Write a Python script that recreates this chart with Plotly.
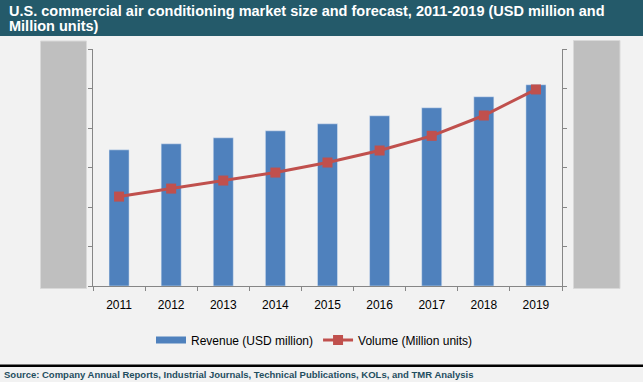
import plotly.graph_objects as go

years = ["2011", "2012", "2013", "2014", "2015", "2016", "2017", "2018", "2019"]
revenue_usd_mn = [3447, 3600, 3752, 3929, 4106, 4309, 4512, 4791, 5095]
volume_mn_units = [1.132, 1.233, 1.335, 1.436, 1.563, 1.715, 1.901, 2.158, 2.488]

title_line1 = "U.S. commercial air conditioning market size and forecast, 2011-2019 (USD million and"
title_line2 = "Million units)"
source_text = "Source: Company Annual Reports, Industrial Journals, Technical Publications, KOLs, and TMR Analysis"

W, H = 643, 382
L, R, T, B = 93, 81, 49, 96
PW, PH = W - L - R, H - T - B

def px_x(px):
    return (px - L) / PW

def px_y(py):
    return (H - B - py) / PH

BLUE = "#4f81bd"
RED = "#c0504d"
AXIS = "#868686"
SANS = "Liberation Sans, Arial, sans-serif"

fig = go.Figure()
fig.add_trace(go.Bar(x=years, y=revenue_usd_mn, name="Revenue (USD million)",
                     marker_color=BLUE, width=0.385, showlegend=False))
# legend stand-in for the bar series (wide flat swatch)
fig.add_trace(go.Scatter(x=[None], y=[None], mode="lines", name="Revenue (USD million)",
                         line=dict(color=BLUE, width=7)))
fig.add_trace(go.Scatter(x=years, y=volume_mn_units, name="Volume (Million units)", yaxis="y2",
                         mode="lines+markers", line=dict(color=RED, width=3),
                         marker=dict(symbol="square", size=10, color=RED)))

shapes = [
    # title bar
    dict(type="rect", xref="paper", yref="paper", x0=px_x(0), x1=px_x(W), y0=px_y(36), y1=px_y(0),
         fillcolor="#245a6a", line_width=0, layer="below"),
    # gray boxes over axis labels
    dict(type="rect", xref="paper", yref="paper", x0=px_x(40.5), x1=px_x(86.5), y0=px_y(288.5), y1=px_y(41),
         fillcolor="#bfbfbf", line=dict(color="#d9d9d9", width=1)),
    dict(type="rect", xref="paper", yref="paper", x0=px_x(573.5), x1=px_x(620), y0=px_y(288.5), y1=px_y(40.5),
         fillcolor="#bfbfbf", line=dict(color="#d9d9d9", width=1)),
    # black separator line
    dict(type="line", xref="paper", yref="paper", x0=px_x(0), x1=px_x(W), y0=px_y(365.7), y1=px_y(365.7),
         line=dict(color="#000000", width=2.5)),
]

title_font = dict(family=SANS, size=14.5, color="#ffffff", weight="bold")
annotations = [
    dict(text=title_line1, xref="paper", yref="paper", x=px_x(7), y=px_y(11),
         xanchor="left", yanchor="middle", showarrow=False, font=title_font),
    dict(text=title_line2, xref="paper", yref="paper", x=px_x(7), y=px_y(26.5),
         xanchor="left", yanchor="middle", showarrow=False, font=title_font),
    dict(text=source_text, xref="paper", yref="paper", x=px_x(2), y=px_y(374.5),
         xanchor="left", yanchor="middle", showarrow=False,
         font=dict(family=SANS, size=9.5, color="#1f4e5f", weight="bold")),
]

fig.update_layout(
    width=W, height=H,
    margin=dict(l=L, r=R, t=T, b=B),
    paper_bgcolor="#f2f2f2", plot_bgcolor="#f2f2f2",
    font=dict(family=SANS, size=12, color="#000000"),
    shapes=shapes,
    annotations=annotations,
    xaxis=dict(type="category", range=[-0.5, 8.5], showline=True, linecolor=AXIS, linewidth=1,
               ticks="outside", tickson="boundaries", ticklen=4, tickcolor=AXIS,
               ticklabelstandoff=8, showgrid=False, tickfont=dict(size=12, color="#000000")),
    yaxis=dict(range=[0, 6000], dtick=1000, showline=True, linecolor=AXIS, ticks="outside",
               ticklen=4, tickcolor=AXIS, showgrid=False, zeroline=False, showticklabels=False),
    yaxis2=dict(range=[0, 3.0], dtick=0.5, overlaying="y", side="right", showline=True,
                linecolor=AXIS, ticks="outside", ticklen=4, tickcolor=AXIS, showgrid=False,
                zeroline=False, showticklabels=False),
    legend=dict(orientation="h", x=px_x(151), xanchor="left", y=px_y(340), yanchor="middle",
                bgcolor="rgba(0,0,0,0)", font=dict(size=12, color="#000000"), itemwidth=30),
)

fig.write_html("out.html", config={"displayModeBar": False},
               post_script="document.body.style.margin='0px';document.body.style.overflow='hidden';")
